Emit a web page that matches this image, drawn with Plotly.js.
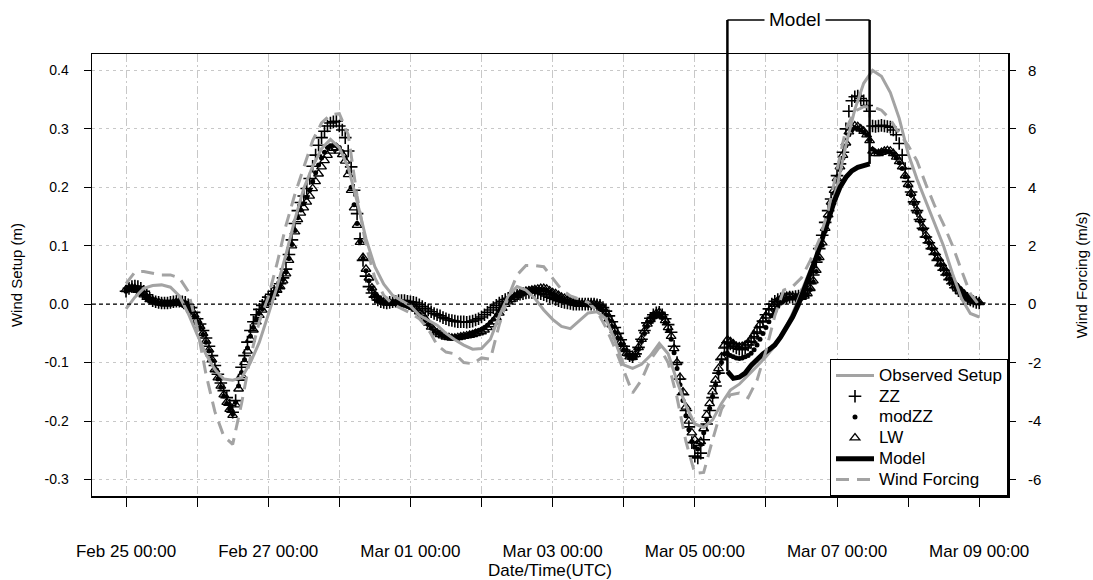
<!DOCTYPE html>
<html>
<head>
<meta charset="utf-8">
<script src="https://cdn.plot.ly/plotly-3.0.1.min.js"></script>
<style>
  html, body { margin: 0; padding: 0; background: #fff; }
  #chart { width: 1093px; height: 580px; }
</style>
</head>
<body>
<div id="chart"></div>
<script>
// ---- Time bases -------------------------------------------------------
const SERIES_START = Date.UTC(2013, 1, 25, 0, 0);   // Feb 25 00:00 UTC
const MODEL_START  = Date.UTC(2013, 2, 5, 11, 0);   // Mar 05 11:00 UTC
const LINE_STEP_H = 3;     // observed setup / wind forcing sampling
const MARKER_STEP_H = 1;   // ZZ / modZZ / LW sampling (hourly)
const MODEL_STEP_H = 2;

// ---- Observed setup (m), 3-hourly from Feb 25 00:00 --------------------
const observedSetup = [
  -0.008, 0.012, 0.027, 0.032, 0.033, 0.029, 0.014, -0.016,
  -0.052, -0.086, -0.112, -0.128, -0.130, -0.126, -0.100, -0.065,
  -0.018, 0.030, 0.085, 0.145, 0.198, 0.236, 0.266, 0.282,
  0.268, 0.234, 0.176, 0.112, 0.064, 0.034, 0.015, 0.006,
  -0.003, -0.019, -0.028, -0.036, -0.050, -0.061, -0.070, -0.077,
  -0.076, -0.060, -0.020, 0.014, 0.030, 0.024, 0.010, -0.010,
  -0.026, -0.038, -0.042, -0.029, -0.015, -0.013, -0.025, -0.062,
  -0.104, -0.110, -0.103, -0.088, -0.067, -0.085, -0.132, -0.174,
  -0.205, -0.211, -0.198, -0.170, -0.147, -0.137, -0.122, -0.106,
  -0.090, -0.072, -0.048, -0.016, 0.022, 0.060, 0.096, 0.148,
  0.201, 0.272, 0.333, 0.378, 0.400, 0.390, 0.362, 0.318,
  0.258, 0.214, 0.176, 0.138, 0.099, 0.052, 0.010, -0.016,
  -0.022
];

// ---- Wind forcing (m/s), 3-hourly from Feb 25 00:00 --------------------
const windForcing = [
  0.70, 1.10, 1.12, 1.06, 1.00, 1.00, 0.90, 0.44,
  -0.80, -2.40, -3.68, -4.52, -4.80, -3.40, -1.80, -0.60,
  0.24, 1.40, 2.70, 3.76, 4.70, 5.60, 6.20, 6.48,
  6.52, 5.80, 3.70, 2.00, 0.90, 0.30, 0.00, -0.16,
  -0.30, -0.50, -0.84, -1.40, -1.64, -1.70, -2.00, -2.04,
  -1.84, -1.88, -0.70, 0.24, 1.00, 1.32, 1.32, 1.28,
  0.88, 0.50, 0.28, 0.16, 0.06, -0.24, -0.80, -1.50,
  -2.24, -3.04, -2.60, -1.90, -1.48, -2.00, -3.20, -4.70,
  -5.80, -5.76, -4.64, -3.60, -3.10, -3.04, -3.20, -2.60,
  -1.60, -0.40, 0.48, 0.60, 0.90, 1.50, 2.20, 3.20,
  4.60, 6.00, 6.60, 6.76, 6.76, 6.64, 6.32, 5.84,
  5.44, 4.90, 4.10, 3.36, 2.72, 2.00, 1.16, 0.36,
  -0.04
];

// ---- ZZ setup estimate (m), hourly from Feb 25 00:00 (one row per day) --
const zz = [
  0.022, 0.027, 0.030, 0.031, 0.030, 0.027, 0.022, 0.016, 0.010, 0.006, 0.004, 0.003,
  0.002, 0.002, 0.002, 0.003, 0.004, 0.005, 0.005, 0.004, 0.003, -0.001, -0.006, -0.014,
  -0.025, -0.034, -0.045, -0.058, -0.072, -0.088, -0.105, -0.120, -0.135, -0.148, -0.160, -0.173,
  -0.185, -0.165, -0.130, -0.108, -0.088, -0.065, -0.045, -0.030, -0.018, -0.009, -0.002, 0.005,
  0.012, 0.017, 0.022, 0.028, 0.035, 0.045, 0.060, 0.085, 0.110, 0.138, 0.160, 0.174,
  0.185, 0.198, 0.215, 0.236, 0.255, 0.272, 0.285, 0.296, 0.305, 0.310, 0.312, 0.313,
  0.305, 0.298, 0.285, 0.262, 0.235, 0.195, 0.155, 0.112, 0.075, 0.048, 0.030, 0.019,
  0.012, 0.007, 0.004, 0.003, 0.002, 0.003, 0.004, 0.005, 0.006, 0.006, 0.006, 0.005,
  0.004, 0.003, 0.002, -0.001, -0.004, -0.007, -0.010, -0.013, -0.016, -0.018, -0.020, -0.023,
  -0.025, -0.027, -0.028, -0.029, -0.030, -0.030, -0.030, -0.031, -0.030, -0.029, -0.027, -0.025,
  -0.022, -0.018, -0.014, -0.010, -0.006, -0.002, 0.002, 0.005, 0.008, 0.010, 0.012, 0.014,
  0.015, 0.017, 0.018, 0.019, 0.020, 0.020, 0.020, 0.019, 0.018, 0.016, 0.014, 0.012,
  0.010, 0.008, 0.006, 0.004, 0.003, 0.002, 0.001, 0.000, 0.000, 0.000, 0.000, 0.000,
  0.000, 0.000, 0.000, -0.001, -0.002, -0.006, -0.012, -0.020, -0.030, -0.040, -0.050, -0.061,
  -0.072, -0.081, -0.088, -0.090, -0.085, -0.074, -0.060, -0.045, -0.032, -0.024, -0.018, -0.015,
  -0.014, -0.018, -0.025, -0.035, -0.048, -0.072, -0.100, -0.128, -0.155, -0.182, -0.210, -0.237,
  -0.260, -0.263, -0.255, -0.232, -0.205, -0.182, -0.160, -0.140, -0.118, -0.095, -0.075, -0.066,
  -0.068, -0.072, -0.075, -0.077, -0.078, -0.075, -0.070, -0.065, -0.058, -0.050, -0.040, -0.029,
  -0.018, -0.008, 0.000, 0.005, 0.008, 0.009, 0.010, 0.011, 0.012, 0.012, 0.013, 0.014,
  0.016, 0.019, 0.025, 0.035, 0.050, 0.072, 0.095, 0.118, 0.140, 0.160, 0.180, 0.200,
  0.220, 0.240, 0.260, 0.300, 0.330, 0.348, 0.355, 0.356, 0.352, 0.348, 0.340, 0.330,
  0.305, 0.304, 0.305, 0.306, 0.305, 0.304, 0.303, 0.298, 0.290, 0.275, 0.255, 0.232,
  0.210, 0.192, 0.175, 0.160, 0.145, 0.130, 0.115, 0.105, 0.095, 0.085, 0.075, 0.066,
  0.058, 0.050, 0.042, 0.035, 0.028, 0.023, 0.018, 0.014, 0.010, 0.007, 0.005, 0.003,
  0.002
];

// ---- modZZ setup estimate (m), hourly -------------------------------
const modZz = [
  0.022, 0.025, 0.026, 0.025, 0.022, 0.018, 0.014, 0.010, 0.006, 0.004, 0.002, 0.001,
  0.000, 0.000, 0.000, 0.000, 0.001, 0.002, 0.002, 0.001, -0.002, -0.006, -0.012, -0.020,
  -0.030, -0.040, -0.052, -0.065, -0.080, -0.097, -0.113, -0.128, -0.142, -0.157, -0.170, -0.180,
  -0.188, -0.168, -0.140, -0.117, -0.095, -0.075, -0.055, -0.040, -0.026, -0.016, -0.008, 0.000,
  0.008, 0.014, 0.020, 0.026, 0.032, 0.042, 0.055, 0.078, 0.102, 0.126, 0.148, 0.161,
  0.172, 0.183, 0.195, 0.210, 0.225, 0.238, 0.250, 0.260, 0.268, 0.271, 0.272, 0.271,
  0.268, 0.261, 0.250, 0.227, 0.200, 0.170, 0.138, 0.107, 0.078, 0.057, 0.040, 0.026,
  0.015, 0.009, 0.005, 0.003, 0.001, 0.001, 0.001, 0.001, 0.000, -0.001, -0.002, -0.004,
  -0.006, -0.009, -0.012, -0.017, -0.022, -0.028, -0.035, -0.041, -0.046, -0.049, -0.052, -0.054,
  -0.055, -0.056, -0.057, -0.057, -0.056, -0.055, -0.054, -0.053, -0.051, -0.049, -0.047, -0.045,
  -0.043, -0.040, -0.036, -0.031, -0.026, -0.019, -0.012, -0.005, 0.002, 0.006, 0.010, 0.013,
  0.016, 0.018, 0.020, 0.021, 0.022, 0.023, 0.024, 0.025, 0.025, 0.025, 0.024, 0.021,
  0.018, 0.015, 0.012, 0.009, 0.007, 0.005, 0.003, 0.001, 0.000, 0.000, -0.001, -0.001,
  -0.002, -0.002, -0.003, -0.004, -0.006, -0.011, -0.018, -0.028, -0.038, -0.048, -0.058, -0.068,
  -0.078, -0.086, -0.092, -0.093, -0.088, -0.077, -0.064, -0.050, -0.038, -0.030, -0.024, -0.020,
  -0.018, -0.023, -0.032, -0.045, -0.060, -0.083, -0.110, -0.138, -0.165, -0.191, -0.215, -0.235,
  -0.245, -0.248, -0.240, -0.220, -0.198, -0.178, -0.158, -0.138, -0.118, -0.100, -0.085, -0.084,
  -0.088, -0.090, -0.092, -0.093, -0.092, -0.090, -0.088, -0.084, -0.078, -0.070, -0.060, -0.050,
  -0.040, -0.030, -0.020, -0.012, -0.004, 0.002, 0.006, 0.008, 0.010, 0.010, 0.010, 0.010,
  0.010, 0.012, 0.016, 0.025, 0.038, 0.056, 0.078, 0.101, 0.125, 0.148, 0.170, 0.190,
  0.210, 0.230, 0.250, 0.271, 0.290, 0.298, 0.302, 0.301, 0.298, 0.294, 0.290, 0.280,
  0.265, 0.261, 0.260, 0.261, 0.262, 0.261, 0.260, 0.256, 0.250, 0.242, 0.232, 0.218,
  0.202, 0.187, 0.172, 0.157, 0.142, 0.128, 0.115, 0.105, 0.095, 0.086, 0.077, 0.068,
  0.060, 0.052, 0.044, 0.037, 0.030, 0.025, 0.020, 0.015, 0.011, 0.008, 0.005, 0.003,
  0.002
];

// ---- LW setup estimate (m), hourly ----------------------------------
const lw = [
  0.025, 0.027, 0.028, 0.027, 0.024, 0.020, 0.016, 0.012, 0.008, 0.006, 0.004, 0.003,
  0.002, 0.001, 0.001, 0.001, 0.002, 0.003, 0.003, 0.002, 0.000, -0.004, -0.010, -0.018,
  -0.028, -0.038, -0.050, -0.063, -0.078, -0.095, -0.112, -0.126, -0.140, -0.155, -0.168, -0.180,
  -0.190, -0.172, -0.145, -0.122, -0.100, -0.080, -0.060, -0.044, -0.030, -0.019, -0.010, -0.002,
  0.006, 0.012, 0.018, 0.024, 0.030, 0.040, 0.052, 0.075, 0.100, 0.124, 0.145, 0.156,
  0.165, 0.175, 0.185, 0.198, 0.210, 0.223, 0.235, 0.246, 0.255, 0.262, 0.267, 0.268,
  0.262, 0.256, 0.245, 0.222, 0.195, 0.165, 0.135, 0.106, 0.080, 0.060, 0.045, 0.028,
  0.016, 0.010, 0.006, 0.004, 0.002, 0.002, 0.002, 0.002, 0.002, 0.001, 0.000, -0.001,
  -0.002, -0.005, -0.008, -0.013, -0.018, -0.025, -0.032, -0.039, -0.045, -0.049, -0.052, -0.054,
  -0.056, -0.057, -0.058, -0.058, -0.057, -0.056, -0.055, -0.054, -0.053, -0.052, -0.050, -0.049,
  -0.047, -0.044, -0.040, -0.035, -0.030, -0.023, -0.015, -0.007, 0.000, 0.004, 0.008, 0.012,
  0.015, 0.018, 0.020, 0.022, 0.023, 0.024, 0.025, 0.026, 0.027, 0.027, 0.026, 0.023,
  0.020, 0.018, 0.015, 0.012, 0.010, 0.007, 0.004, 0.002, 0.001, 0.000, 0.000, 0.000,
  0.000, 0.000, 0.000, -0.001, -0.002, -0.007, -0.015, -0.025, -0.035, -0.045, -0.055, -0.065,
  -0.075, -0.084, -0.090, -0.091, -0.086, -0.074, -0.060, -0.046, -0.034, -0.026, -0.020, -0.016,
  -0.014, -0.019, -0.028, -0.040, -0.055, -0.076, -0.100, -0.125, -0.150, -0.176, -0.200, -0.220,
  -0.232, -0.238, -0.235, -0.213, -0.190, -0.170, -0.150, -0.130, -0.110, -0.090, -0.070, -0.061,
  -0.064, -0.068, -0.072, -0.073, -0.072, -0.070, -0.066, -0.060, -0.052, -0.044, -0.035, -0.027,
  -0.020, -0.013, -0.006, 0.000, 0.006, 0.009, 0.012, 0.013, 0.014, 0.013, 0.012, 0.012,
  0.012, 0.014, 0.018, 0.027, 0.040, 0.058, 0.080, 0.105, 0.130, 0.153, 0.175, 0.195,
  0.215, 0.235, 0.255, 0.276, 0.295, 0.302, 0.305, 0.304, 0.300, 0.296, 0.290, 0.280,
  0.262, 0.258, 0.258, 0.260, 0.262, 0.263, 0.262, 0.258, 0.252, 0.244, 0.235, 0.220,
  0.205, 0.190, 0.175, 0.160, 0.145, 0.131, 0.118, 0.108, 0.098, 0.089, 0.080, 0.071,
  0.062, 0.054, 0.046, 0.039, 0.032, 0.027, 0.022, 0.017, 0.012, 0.009, 0.006, 0.004,
  0.003
];

// ---- Model run (m), 2-hourly from Mar 05 11:00 ------------------------
const model = [
  -0.115, -0.127, -0.125, -0.118, -0.105, -0.094, -0.085, -0.078, -0.070,
  -0.056, -0.040, -0.022, 0.000, 0.025, 0.052, 0.080, 0.112, 0.145,
  0.175, 0.200, 0.217, 0.228, 0.234, 0.237, 0.240
];

// ---- Axes: ticks and labels -------------------------------------------
const xRange = ['2013-02-24 12:31', '2013-03-09 09:43'];
const dayTicks = [
  '2013-02-25', '2013-02-26', '2013-02-27', '2013-02-28', '2013-03-01', '2013-03-02',
  '2013-03-03', '2013-03-04', '2013-03-05', '2013-03-06', '2013-03-07', '2013-03-08', '2013-03-09'
];
const dayTickLabels = [
  'Feb 25 00:00', '', 'Feb 27 00:00', '', 'Mar 01 00:00', '',
  'Mar 03 00:00', '', 'Mar 05 00:00', '', 'Mar 07 00:00', '', 'Mar 09 00:00'
];
const setupRange = [-0.3283, 0.4281];
const setupTicks = [-0.3, -0.2, -0.1, 0.0, 0.1, 0.2, 0.3, 0.4];
const setupTickLabels = ['-0.3', '-0.2', '-0.1', '0.0', '0.1', '0.2', '0.3', '0.4'];
const windScale = 20;   // m/s of wind forcing per metre of setup
const windRange = setupRange.map(v => v * windScale);
const windTicks = [-6, -4, -2, 0, 2, 4, 6, 8];
const windTickLabels = ['-6', '-4', '-2', '0', '2', '4', '6', '8'];

function timeSeries(startMs, stepHours, count) {
  const out = [];
  for (let i = 0; i < count; i++) {
    out.push(new Date(startMs + i * stepHours * 3600e3).toISOString().slice(0, 16).replace('T', ' '));
  }
  return out;
}
const lineTimes = timeSeries(SERIES_START, LINE_STEP_H, observedSetup.length);
const markerTimes = timeSeries(SERIES_START, MARKER_STEP_H, zz.length);
const modelTimes = timeSeries(MODEL_START, MODEL_STEP_H, model.length);

const FONT = 'Liberation Sans, Arial, sans-serif';
const GREY = '#a3a3a3';
const big = s => '<span style="font-size:17px">' + s + '</span>';

const traces = [
  { x: markerTimes, y: lw, type: 'scatter', mode: 'markers', name: big('LW'), legendrank: 4,
    marker: { symbol: 'triangle-up-open', size: 8.5, color: '#000', line: { color: '#000', width: 1.3 } } },
  { x: markerTimes, y: modZz, type: 'scatter', mode: 'markers', name: big('modZZ'), legendrank: 3,
    marker: { symbol: 'circle', size: 5, color: '#000' } },
  { x: markerTimes, y: zz, type: 'scatter', mode: 'markers', name: big('ZZ'), legendrank: 2,
    marker: { symbol: 'cross-thin-open', size: 9, color: '#000', line: { color: '#000', width: 1.6 } } },
  { x: lineTimes, y: observedSetup, type: 'scatter', mode: 'lines', name: big('Observed Setup'), legendrank: 1,
    line: { color: GREY, width: 3 } },
  { x: modelTimes, y: model, type: 'scatter', mode: 'lines', name: big('Model'), legendrank: 5,
    line: { color: '#000', width: 5 } },
  { x: lineTimes, y: windForcing, type: 'scatter', mode: 'lines', name: big('Wind Forcing'), legendrank: 6,
    yaxis: 'y2', line: { color: GREY, width: 3, dash: '13px,8px' } }
];

// Bracket marking the model window above the plot
const bracketY = 1.077;
const mStart = modelTimes[0], mEnd = modelTimes[modelTimes.length - 1];
const mMid = modelTimes[Math.floor(modelTimes.length / 2)];
const shapes = [
  { type: 'line', xref: 'paper', x0: 0, x1: 1, yref: 'y', y0: 0, y1: 0,
    line: { color: '#000', width: 1.2, dash: '4px,3px' } },
  { type: 'line', xref: 'x', yref: 'y', x0: mStart, x1: mStart, y0: model[0], y1: setupRange[1],
    line: { color: '#000', width: 2.5 } },
  { type: 'line', xref: 'x', yref: 'paper', x0: mStart, x1: mStart, y0: 1, y1: bracketY,
    line: { color: '#000', width: 2.5 } },
  { type: 'line', xref: 'x', yref: 'y', x0: mEnd, x1: mEnd, y0: model[model.length - 1], y1: setupRange[1],
    line: { color: '#000', width: 2.5 } },
  { type: 'line', xref: 'x', yref: 'paper', x0: mEnd, x1: mEnd, y0: 1, y1: bracketY,
    line: { color: '#000', width: 2.5 } },
  { type: 'line', xref: 'x', yref: 'paper', x0: mStart, x1: mEnd, y0: bracketY, y1: bracketY,
    line: { color: '#000', width: 1.5 } }
];

const annotations = [
  { xref: 'x', yref: 'paper', x: mMid, y: bracketY, yanchor: 'middle', xanchor: 'center',
    text: 'Model', showarrow: false, xshift: -4, bgcolor: '#fff', borderpad: 4,
    font: { family: FONT, size: 19, color: '#000' } }
];

const layout = {
  width: 1093, height: 580,
  margin: { l: 92, r: 85, t: 54, b: 84 },
  paper_bgcolor: '#fff', plot_bgcolor: '#fff',
  font: { family: FONT, size: 14, color: '#000' },
  showlegend: true,
  xaxis: {
    type: 'date', range: xRange, tickmode: 'array', tickvals: dayTicks, ticktext: dayTickLabels,
    ticks: 'outside', ticklen: 9, tickwidth: 1, tickcolor: '#000', ticklabelstandoff: 30,
    tickfont: { family: FONT, size: 17 },
    showgrid: true, gridcolor: '#c8c8c8', gridwidth: 1, griddash: '8px,3px,2px,3px',
    showline: true, linecolor: '#000', linewidth: 1.5, mirror: true, zeroline: false,
    title: { text: 'Date/Time(UTC)', font: { family: FONT, size: 17 }, standoff: 0 }
  },
  yaxis: {
    range: setupRange, tickmode: 'array', tickvals: setupTicks, ticktext: setupTickLabels,
    ticks: 'outside', ticklen: 7, tickwidth: 1, tickcolor: '#000', ticklabelstandoff: 12,
    tickfont: { family: FONT, size: 14 },
    showgrid: true, gridcolor: '#c8c8c8', gridwidth: 1, griddash: '3px,4px',
    showline: true, linecolor: '#000', linewidth: 1.5, mirror: true, zeroline: false,
    title: { text: 'Wind Setup (m)', font: { family: FONT, size: 15 }, standoff: 18 }
  },
  yaxis2: {
    overlaying: 'y', side: 'right', range: windRange, tickmode: 'array',
    tickvals: windTicks, ticktext: windTickLabels,
    ticks: 'outside', ticklen: 7, tickwidth: 1, tickcolor: '#000', ticklabelstandoff: 9,
    tickfont: { family: FONT, size: 15 },
    showgrid: false, zeroline: false, showline: false,
    title: { text: 'Wind Forcing (m/s)', font: { family: FONT, size: 15 }, standoff: 36 }
  },
  legend: {
    x: 1, xanchor: 'right', y: 0, yanchor: 'bottom',
    bgcolor: '#fff', bordercolor: '#000', borderwidth: 1,
    font: { family: FONT, size: 13.7, color: '#000' },
    itemwidth: 38, traceorder: 'normal', tracegroupgap: 0
  },
  shapes: shapes,
  annotations: annotations
};

Plotly.newPlot('chart', traces, layout, { displayModeBar: false, staticPlot: true });
</script>
</body>
</html>
